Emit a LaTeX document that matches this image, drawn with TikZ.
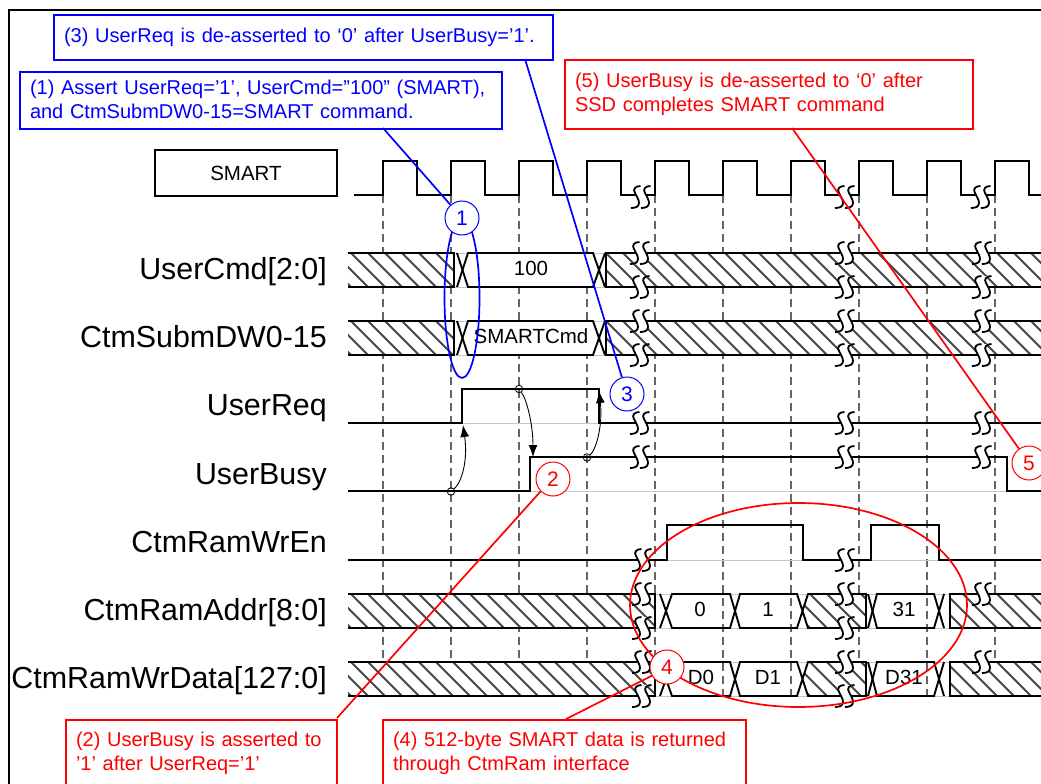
\documentclass[tikz,border=0pt]{standalone}
\usepackage{fontspec}
\setmainfont{Liberation Sans}
\usetikzlibrary{arrows.meta,shapes.geometric}
\newcommand{\sqz}[2]{\begin{scope}[shift={(#1,#2)}]
  \fill[white] (-0.5,-11) .. controls (-5.5,-11) and (-8.5,-8) .. (-6,-4) .. controls (-4,0) and (-2,3) .. (-2,6) .. controls (-2,10) and (-6,11) .. (-10,11) -- (0,11) .. controls (4,11) and (8,10) .. (8,6) .. controls (8,3) and (6,0) .. (4,-4) .. controls (1.5,-8) and (4.5,-11) .. (9.5,-11) -- cycle;
  \draw[squig] (-0.5,-11) .. controls (-5.5,-11) and (-8.5,-8) .. (-6,-4) .. controls (-4,0) and (-2,3) .. (-2,6) .. controls (-2,10) and (-6,11) .. (-10,11);
  \draw[squig] (9.5,-11) .. controls (4.5,-11) and (1.5,-8) .. (4,-4) .. controls (6,0) and (8,3) .. (8,6) .. controls (8,10) and (4,11) .. (0,11);
\end{scope}}
% hatch clipped to a polygon given as a path
\newcommand{\hatch}[3]{\begin{scope}
  \clip #1;
  \fill[white] #1;
  \foreach \h in {300,317,...,1058} {\draw[hatchline] (\h,#2) -- (\h+34,#3);}
\end{scope}}
\newcommand{\busa}[2]{%
  \hatch{(348,#1) rectangle (454,#2)}{#1}{#2}
  \hatch{(606,#1) rectangle (1041,#2)}{#1}{#2}
  \fill[white] (455,#1) rectangle (605,#2);
  \draw[ghost] (454,#1) -- (605,#1) (454,#2) -- (605,#2);
  \draw[sig] (348,#1) -- (454,#1) -- (454,#2) -- (348,#2);
  \draw[sig] (1041,#1) -- (606,#1) -- (606,#2) -- (1041,#2);
  \draw[sig] (457,#1) -- (468,#2) -- (593,#2) -- (605,#1);
  \draw[sig] (457,#2) -- (468,#1) -- (593,#1) -- (605,#2);
}
\newcommand{\busb}[2]{%
  \hatch{(348,#1) rectangle (655,#2)}{#1}{#2}
  \hatch{(803,#1+17) -- (808,#1) -- (866,#1) -- (866,#2) -- (808,#2) -- cycle}{#1}{#2}
  \hatch{(950,#1) rectangle (1041,#2)}{#1}{#2}
  \draw[ghost] (655,#1) -- (950,#1) (655,#2) -- (950,#2);
  \draw[sig] (348,#1) -- (655,#1) -- (655,#2) -- (348,#2);
  \draw[sig] (1041,#1) -- (950,#1) -- (950,#2) -- (1041,#2);
  \draw[sig] (660,#1) -- (672,#2) -- (730,#2) -- (740,#1) -- (797,#1) -- (808,#2) -- (866,#2) -- (866,#1) -- (808,#1) -- (797,#2) -- (740,#2) -- (730,#1) -- (672,#1) -- (660,#2);
  \draw[sig] (868,#1) -- (877,#2) -- (934,#2) -- (944,#1);
  \draw[sig] (868,#2) -- (877,#1) -- (934,#1) -- (944,#2);
}
\tikzset{
  sig/.style={line width=1.9pt,black,line join=miter},
  ghost/.style={line width=1pt,black!22},
  squig/.style={line width=1.8pt,black},
  hatchline/.style={line width=2.1pt,black!72},
  griddash/.style={line width=1.3pt,black!60,dash pattern=on 8pt off 5pt},
  siglabel/.style={anchor=base east,font=\fontsize{30.4}{32}\selectfont,inner sep=0pt},
  vallabel/.style={font=\fontsize{20.5}{22}\selectfont,inner sep=0pt},
  note/.style={anchor=north west,draw=#1,text=#1,line width=2pt,fill=white,align=left,inner xsep=10pt,inner ysep=0pt,font=\fontsize{20}{24}\selectfont},
  badge/.style={circle,draw=#1,text=#1,fill=white,line width=1pt,minimum size=34pt,inner sep=0pt,font=\fontsize{21}{22}\selectfont},
  lead/.style={line width=1.7pt,#1},
  hoop/.style={ellipse,draw=#1,line width=1.7pt,inner sep=0pt},
  dot/.style={circle,draw=black,line width=0.8pt,minimum size=7.5pt,inner sep=0pt},
  cause/.style={line width=0.9pt,black,-{Latex[length=12pt,width=9pt]}},
}
\definecolor{nblue}{RGB}{0,0,255}
\definecolor{nred}{RGB}{255,0,0}
\begin{document}
\begin{tikzpicture}[x=1pt,y=-1pt]
\clip (0,0) rectangle (1041,784);
\fill[white] (0,0) rectangle (1041,784);
% frame
\draw[line width=2.6pt] (9,784) -- (9,10) -- (1041,10);
% grid
\foreach \g in {383,451,...,995} {\draw[griddash] (\g,195) -- (\g,696);}
% clock
\draw[sig] (354,195) -- (383,195) -- (383,161) -- (417,161) -- (417,195) -- (451,195) -- (451,161) -- (485,161) -- (485,195) -- (519,195) -- (519,161) -- (553,161) -- (553,195) -- (587,195) -- (587,161) -- (621,161) -- (621,195) -- (655,195) -- (655,161) -- (689,161) -- (689,195) -- (723,195) -- (723,161) -- (757,161) -- (757,195) -- (791,195) -- (791,161) -- (825,161) -- (825,195) -- (859,195) -- (859,161) -- (893,161) -- (893,195) -- (927,195) -- (927,161) -- (961,161) -- (961,195) -- (995,195) -- (995,161) -- (1029,161) -- (1029,195) -- (1041,195);
\sqz{641}{197}\sqz{845}{197}\sqz{981}{197}
% buses
\busa{253}{287}
\busa{321}{355}
\busb{594}{628}
\busb{662}{696}
% single-bit signals
\draw[ghost] (348,423) -- (600,423);
\draw[sig] (348,423) -- (462,423) -- (462,389) -- (599,389) -- (599,423) -- (1041,423);
\draw[ghost] (530,491) -- (1041,491);
\draw[sig] (348,491) -- (530,491) -- (530,457) -- (1007,457) -- (1007,491) -- (1041,491);
\draw[ghost] (348,560) -- (1041,560);
\draw[sig] (348,560) -- (667,560) -- (667,525) -- (803,525) -- (803,560) -- (871,560) -- (871,525) -- (939,525) -- (939,560) -- (1041,560);
% breaks
\foreach \b in {640,845,982} {\sqz{\b}{253}\sqz{\b}{287}\sqz{\b}{321}\sqz{\b}{355}\sqz{\b}{423}\sqz{\b}{457}}
\sqz{642}{560}\sqz{845}{560}
\sqz{642}{594}\sqz{642}{628}\sqz{845}{594}\sqz{845}{628}\sqz{982}{594}
\sqz{642}{662}\sqz{642}{696}\sqz{845}{662}\sqz{845}{696}\sqz{982}{662}
% labels
\node[draw=black,line width=1.7pt,minimum width=182pt,minimum height=46pt,inner sep=0pt,font=\fontsize{20.5}{22}\selectfont] (smart) at (246,173) {SMART};
\node[siglabel] (l1) at (327,279) {UserCmd[2:0]};
\node[siglabel] (l2) at (327,347) {CtmSubmDW0-15};
\node[siglabel] (l3) at (327,415) {UserReq};
\node[siglabel] (l4) at (327,484) {UserBusy};
\node[siglabel] (l5) at (327,552) {CtmRamWrEn};
\node[siglabel] (l6) at (327,620) {CtmRamAddr[8:0]};
\node[siglabel] (l7) at (327,688) {CtmRamWrData[127:0]};
\node[vallabel] (v1) at (531,268) {100};
\node[vallabel] (v2) at (531,336) {SMARTCmd};
\node[vallabel] (v3) at (700,609) {0};
\node[vallabel] (v4) at (768,609) {1};
\node[vallabel] (v5) at (904,609) {31};
\node[vallabel] (v6) at (701,677) {D0};
\node[vallabel] (v7) at (768,677) {D1};
\node[vallabel] (v8) at (904,677) {D31};
% causal arrows
\node[dot] (s1) at (451,491.5) {};
\node[dot] (s2) at (519,389) {};
\node[dot] (s3) at (587,457.5) {};
\coordinate (t1) at (463,425);
\coordinate (t2) at (533,457);
\coordinate (t3) at (599,391);
\draw[cause] (s1) .. controls (462,482) and (468,460) .. (t1);
\draw[cause] (s2) .. controls (527,400) and (533,425) .. (t2);
\draw[cause] (s3) .. controls (596,450) and (603,425) .. (t3);
% hoops
\node[hoop=nblue,minimum width=35pt,minimum height=160pt] (h1) at (462,298) {};
\node[hoop=nred,minimum width=337pt,minimum height=204pt] (h2) at (798.5,605) {};
% badges
\node[badge=nblue] (n1) at (462,218) {1};
\node[badge=nred] (n2) at (553,479) {2};
\node[badge=nblue] (n3) at (627,394) {3};
\node[badge=nred] (n4) at (667,667) {4};
\node[badge=nred] (n5) at (1029,463) {5};
% notes
\node[note=nblue,text width=479pt,minimum height=45pt] (b3) at (53,14) {(3) UserReq is de-asserted to ‘0’ after UserBusy=’1’.};
\node[note=nblue,text width=462pt,minimum height=57pt,yshift=0pt] (b1) at (19,71) {\raisebox{2pt}{(1) Assert UserReq=’1’, UserCmd=”100" (SMART),}\\\raisebox{2pt}{and CtmSubmDW0-15=SMART command.}};
\node[note=nred,text width=388pt,minimum height=69pt] (b5) at (564,59) {(5) UserBusy is de-asserted to ‘0’ after\\SSD completes SMART command};
\node[note=nred,text width=251pt,minimum height=66pt] (b2) at (65,719) {(2) UserBusy is asserted to\\’1’ after UserReq=’1’};
\node[note=nred,text width=343pt,minimum height=66pt] (b4) at (382,719) {(4) 512-byte SMART data is returned\\through CtmRam interface};
% leaders
\coordinate (c1) at (383,128);
\coordinate (c3) at (525,59);
\coordinate (c5) at (792,128);
\coordinate (c2) at (337,718);
\coordinate (c4) at (566,719);
\draw[lead=nblue] (c1) -- (n1);
\draw[lead=nblue] (c3) -- (n3);
\draw[lead=nred] (c5) -- (n5);
\draw[lead=nred] (c2) -- (n2.225);
\draw[lead=nred] (c4) -- (n4.210);
\end{tikzpicture}
\end{document}
